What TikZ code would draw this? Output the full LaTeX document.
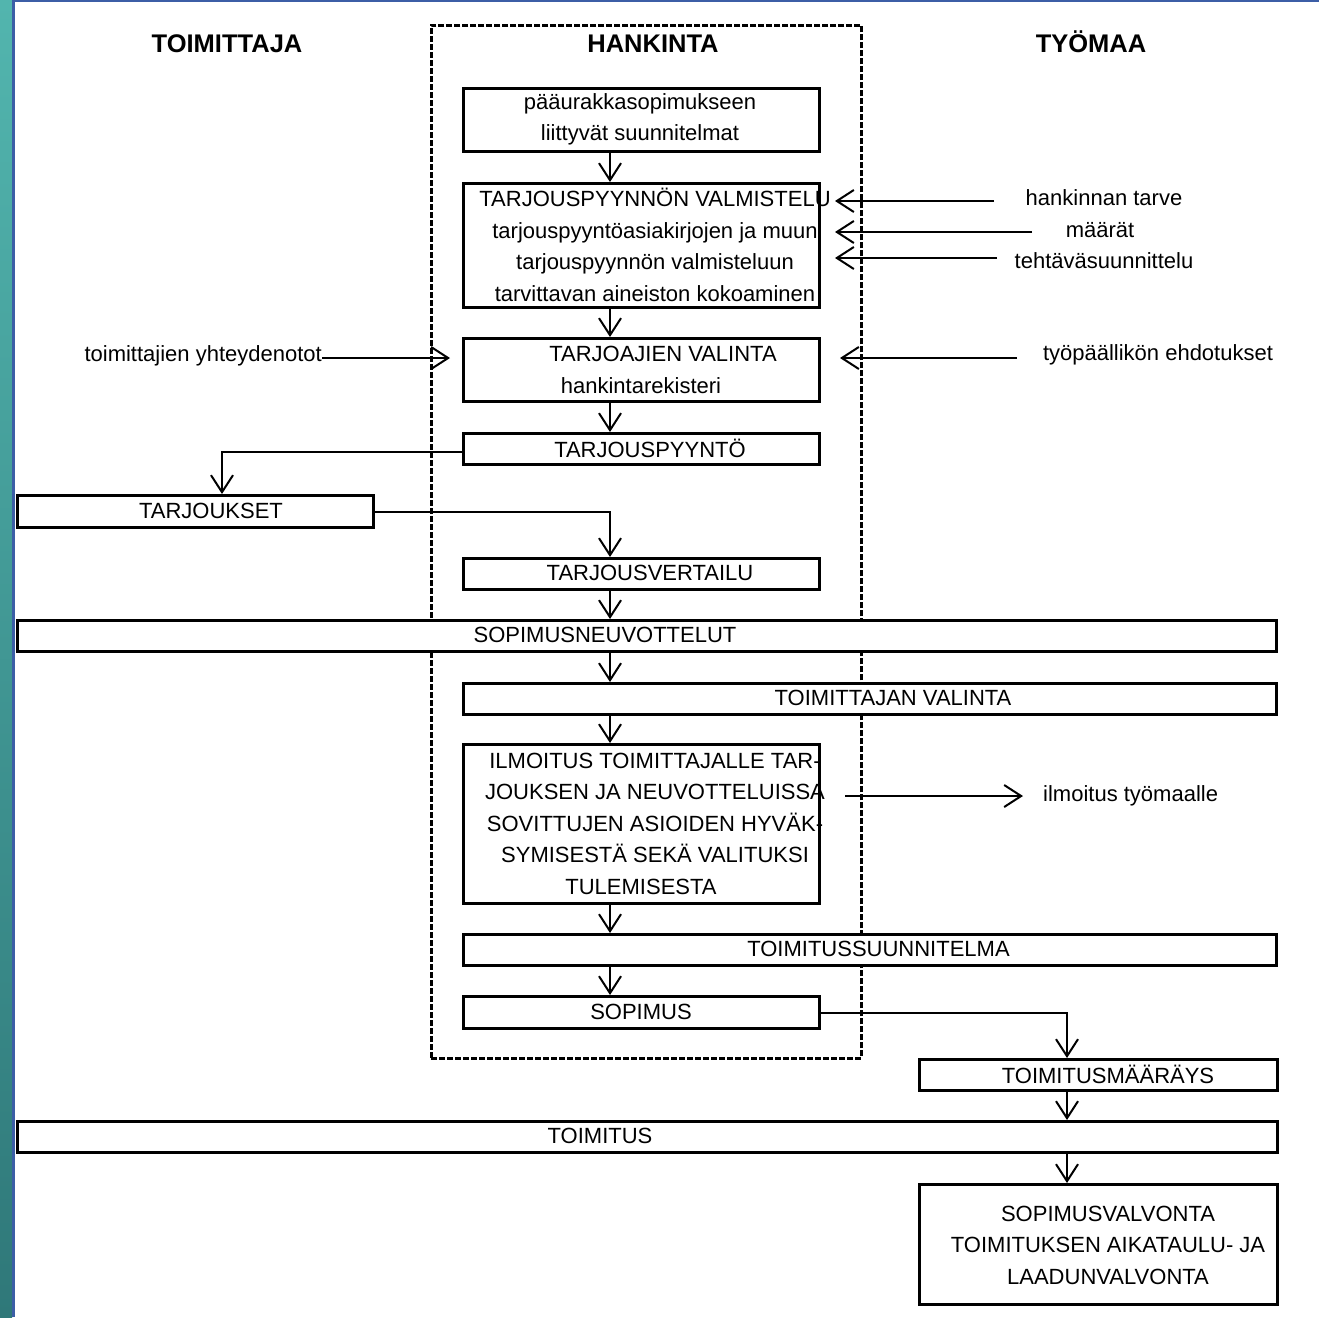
\documentclass[tikz,border=0pt]{standalone}
\usepackage{fontspec}
\setmainfont{Liberation Sans}
\usetikzlibrary{arrows.meta,calc}
\definecolor{tealtop}{HTML}{52B5AE}
\definecolor{tealbot}{HTML}{2F7879}
\definecolor{edgeblue}{HTML}{3C5EA6}
\begin{document}
\begin{tikzpicture}[x=1pt,y=-1pt,
  box/.style={draw, line width=3pt, fill=white, inner sep=0pt, anchor=north west},
  txt/.style={font=\fontsize{22}{31.5}\selectfont, inner sep=0pt, align=center},
  head/.style={font=\fontsize{25.5}{30}\selectfont\bfseries, inner sep=0pt, anchor=base},
  arr/.style={line width=2pt, -{Straight Barb[length=17pt,width=22pt,line width=2pt]}},
  lane/.style={draw, line width=2.5pt, dash pattern=on 6pt off 2pt, inner sep=0pt, anchor=north west}]
% page and border
\fill[white] (0,0) rectangle (1319,1317);
\useasboundingbox (0,0) rectangle (1319,1317);
\shade[top color=tealtop, bottom color=tealbot] (0,0) rectangle (12,1317);
\fill[edgeblue] (12,0) rectangle (14.5,1317);
\fill[edgeblue] (12,0) rectangle (1319,1.6);

% helper coordinates
\coordinate (xa) at (610,0);
\coordinate (xb) at (1067,0);
\coordinate (xc) at (222,0);
\coordinate (tipR) at (835,0);
\coordinate (tipR4) at (840,0);
\coordinate (tipL) at (450,0);

% lane
\node[lane, minimum width=430, minimum height=1033] (hank) at (430,24) {};

% headings
\node[head] (h1) at (227,52) {TOIMITTAJA};
\node[head] (h2) at (653,52) {HANKINTA};
\node[head] (h3) at (1091,52) {TYÖMAA};

% boxes
\node[box, minimum width=356, minimum height=63] (b1) at (462,87) {};
\node[box, minimum width=356, minimum height=124] (b2) at (462,182) {};
\node[box, minimum width=356, minimum height=63] (b3) at (462,337) {};
\node[box, minimum width=356, minimum height=31] (b4) at (462,432) {};
\node[box, minimum width=356, minimum height=32] (tarj) at (16,494) {};
\node[box, minimum width=356, minimum height=31] (vert) at (462,557) {};
\node[box, minimum width=1259, minimum height=31] (neuv) at (16,619) {};
\node[box, minimum width=813, minimum height=31] (vali) at (462,682) {};
\node[box, minimum width=356, minimum height=159] (ilm) at (462,743) {};
\node[box, minimum width=813, minimum height=31] (tsuun) at (462,933) {};
\node[box, minimum width=356, minimum height=32] (sop) at (462,995) {};
\node[box, minimum width=358, minimum height=31] (tmr) at (918,1058) {};
\node[box, minimum width=1260, minimum height=31] (toim) at (16,1120) {};
\node[box, minimum width=358, minimum height=120] (valv) at (918,1183) {};

% box texts
\node[txt] (b1t) at (640,119.5) {pääurakkasopimukseen\\liittyvät suunnitelmat};
\node[txt] (b2t) at (655,245) {TARJOUSPYYNNÖN VALMISTELU\\tarjouspyyntöasiakirjojen ja muun\\tarjouspyynnön valmisteluun\\tarvittavan aineiston kokoaminen};
\node[txt] (b3t1) at (663,354) {TARJOAJIEN VALINTA};
\node[txt] (b3t2) at (641,386) {hankintarekisteri};
\node[txt] (b4t) at (650,448) {TARJOUSPYYNTÖ};
\node[txt] (tarjt) at (211,510.5) {TARJOUKSET};
\node[txt] (vertt) at (650,573) {TARJOUSVERTAILU};
\node[txt] (neuvt) at (605,635) {SOPIMUSNEUVOTTELUT};
\node[txt] (valit) at (893,698) {TOIMITTAJAN VALINTA};
\node[txt] (ilmt) at (655,808) {ILMOITUS TOIMITTAJALLE TAR-\\JOUKSEN JA NEUVOTTELUISSA\\SOVITTUJEN ASIOIDEN HYVÄK-\\SYMISESTÄ SEKÄ VALITUKSI};
\node[txt] (ilmt5) at (641,887) {TULEMISESTA};
\node[txt] (tsuunt) at (878.5,949) {TOIMITUSSUUNNITELMA};
\node[txt] (sopt) at (641,1011.5) {SOPIMUS};
\node[txt] (tmrt) at (1108,1074) {TOIMITUSMÄÄRÄYS};
\node[txt] (toimt) at (600,1136) {TOIMITUS};
\node[txt] (valvt) at (1108,1245) {SOPIMUSVALVONTA\\TOIMITUKSEN AIKATAULU- JA\\LAADUNVALVONTA};

% side labels
\node[txt] (l1) at (1104,198) {hankinnan tarve};
\node[txt] (l2) at (1100,230) {määrät};
\node[txt] (l3) at (1104,261) {tehtäväsuunnittelu};
\node[txt] (l4) at (1158,355) {työpäällikön ehdotukset};
\node[txt, anchor=east] (l5) at (322,356) {toimittajien yhteydenotot};
\node[txt, anchor=west] (l6) at (1043,796) {ilmoitus työmaalle};

\coordinate (s1) at (994,201);
\coordinate (s2) at (1032,232);
\coordinate (s3) at (997,258);
\coordinate (s4) at (1017,358);
\coordinate (s5) at (322,358);
\coordinate (s6) at (845,796);
\coordinate (s6e) at (1023,796);

% side arrows
\draw[arr] (s1) -- (s1 -| tipR);
\draw[arr] (s2) -- (s2 -| tipR);
\draw[arr] (s3) -- (s3 -| tipR);
\draw[arr] (s4) -- (s4 -| tipR4);
\draw[arr] (s5) -- (s5 -| tipL);
\draw[arr] (s6) -- (s6e);

% main flow
\draw[arr] (b1.south -| xa) -- (b2.north -| xa);
\draw[arr] (b2.south -| xa) -- (b3.north -| xa);
\draw[arr] (b3.south -| xa) -- (b4.north -| xa);
\draw[arr] (b4.west |- 0,452) -| (xc |- tarj.north);
\draw[arr] (tarj.east) -| (xa |- vert.north);
\draw[arr] (vert.south -| xa) -- (neuv.north -| xa);
\draw[arr] (neuv.south -| xa) -- (vali.north -| xa);
\draw[arr] (vali.south -| xa) -- (ilm.north -| xa);
\draw[arr] (ilm.south -| xa) -- (tsuun.north -| xa);
\draw[arr] (tsuun.south -| xa) -- (sop.north -| xa);
\draw[arr] (sop.east) -| (xb |- tmr.north);
\draw[arr] (tmr.south -| xb) -- (toim.north -| xb);
\draw[arr] (toim.south -| xb) -- (valv.north -| xb);
\end{tikzpicture}
\end{document}
